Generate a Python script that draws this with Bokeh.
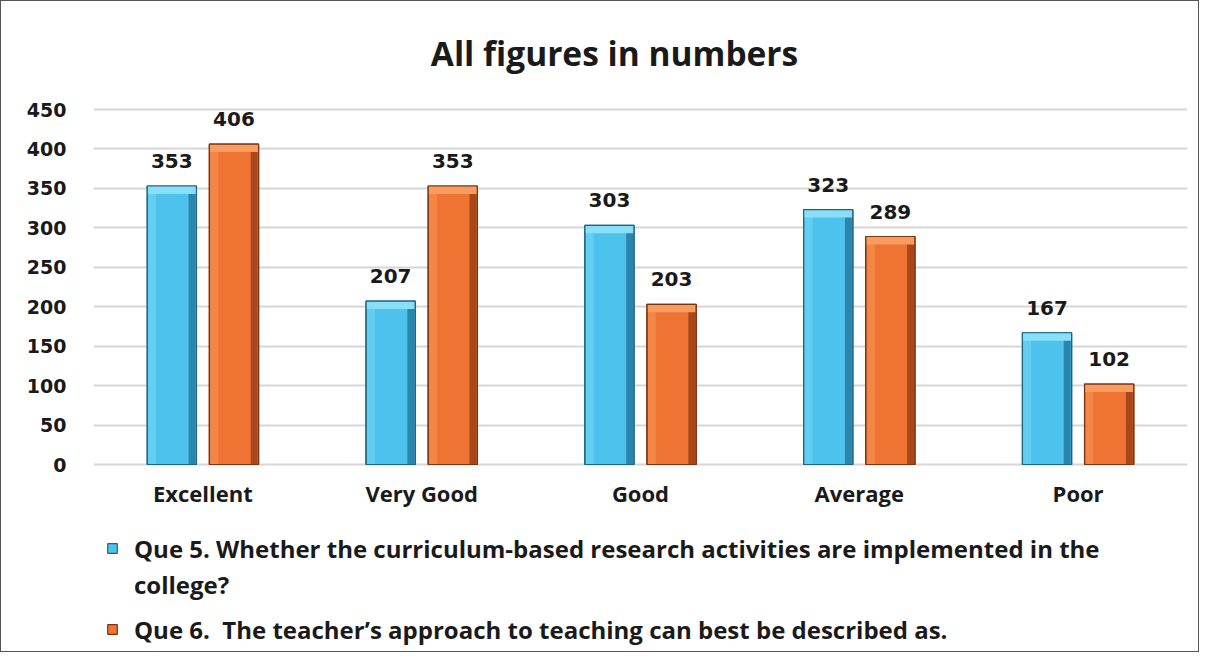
from bokeh.plotting import figure
from bokeh.models import (ColumnDataSource, FactorRange, FixedTicker, Legend, LegendItem,
                          LabelSet, Label, Range1d)
from bokeh.core.properties import value
from bokeh.transform import dodge
from bokeh.embed import file_html
from bokeh.resources import INLINE

categories = ["Excellent", "Very Good", "Good", "Average", "Poor"]
que5 = [353, 207, 303, 323, 167]
que6 = [406, 353, 203, 289, 102]
series_names = [
    "Que 5. Whether the curriculum-based research activities are implemented in the\ncollege?",
    "Que 6.  The teacher\u2019s approach to teaching can best be described as.",
]
chart_title = "All figures in numbers"
y_ticks = [0, 50, 100, 150, 200, 250, 300, 350, 400, 450]

# ---- layout constants (pixels) ----
W, H = 1199, 652
LEFT, RIGHT = 92, 13
ZERO_PX, TOP450_PX = 463, 108
k = (ZERO_PX - TOP450_PX) / 450.0       # pixels per unit
y_max = ZERO_PX / k                      # frame spans the full height
y_min = -(H - ZERO_PX) / k
cat_px = (W - LEFT - RIGHT) / len(categories)

p = figure(x_range=FactorRange(*categories), y_range=Range1d(y_min, y_max), width=W, height=H,
           output_backend="svg", toolbar_location=None,
           min_border_left=LEFT, min_border_right=RIGHT, min_border_top=0, min_border_bottom=0)
p.outline_line_color = None
p.background_fill_color = "white"
p.border_fill_color = "white"

# title
p.add_layout(Label(x=(613 - LEFT) / cat_px, y=(ZERO_PX - 51) / k, text=chart_title,
                   text_align="center", text_baseline="middle", text_font="Open Sans",
                   text_font_size="33.5px", text_font_style="bold", text_color="#1a1a1a"))

p.xgrid.grid_line_color = None
p.ygrid.grid_line_color = "#d6d6d6"
p.ygrid.grid_line_width = 2
p.yaxis.ticker = FixedTicker(ticks=y_ticks)
p.yaxis.axis_line_color = None
p.yaxis.major_tick_line_color = None
p.yaxis.minor_tick_line_color = None
p.yaxis.major_label_text_font = "DejaVu Sans"
p.yaxis.major_label_text_font_style = "bold"
p.yaxis.major_label_text_font_size = "19px"
p.yaxis.major_label_text_color = "#1a1a1a"
p.yaxis.major_label_standoff = 21
p.xaxis.visible = False

src = ColumnDataSource(dict(cat=categories, q5=que5, q6=que6, zero=[0] * len(categories),
                            q5_top=[v - 10 for v in que5], q6_top=[v - 10 for v in que6],
                            q5_lbl=[str(v) for v in que5], q6_lbl=[str(v) for v in que6]))

# category labels under the zero line
p.add_layout(LabelSet(x="cat", y="zero", text="cat", source=src, text_align="center",
                      text_baseline="middle", y_offset=-28, text_font=value("Open Sans"),
                      text_font_style="bold", text_font_size="22px", text_color="#1a1a1a"))

BW = 0.225
OFF = 0.142
styles = [
    dict(col="q5", top="q5_top", lbl="q5_lbl", off=-OFF, main="#4CC2EC", light="#8ADFF8",
         left="#64CEF2", right="#2B86AE", edge="#1D6585"),
    dict(col="q6", top="q6_top", lbl="q6_lbl", off=OFF, main="#EF7433", light="#F89C60",
         left="#F38646", right="#A8481A", edge="#7A3410"),
]
base_renderers = []
for s in styles:
    x = dodge("cat", s["off"], range=p.x_range)
    r = p.vbar(x=x, top=s["col"], bottom=0, width=BW, source=src, fill_color=s["main"],
               line_color=s["edge"], line_width=1.2)
    base_renderers.append(r)
    p.vbar(x=dodge("cat", s["off"] - BW * 0.40, range=p.x_range), top=s["col"], bottom=0,
           width=BW * 0.16, source=src, fill_color=s["left"], line_color=None)
    p.vbar(x=dodge("cat", s["off"] + BW * 0.41, range=p.x_range), top=s["col"], bottom=0,
           width=BW * 0.14, source=src, fill_color=s["right"], line_color=None)
    p.vbar(x=x, top=s["col"], bottom=s["top"], width=BW * 0.98, source=src,
           fill_color=s["light"], line_color=None)
    p.vbar(x=x, top=s["col"], bottom=0, width=BW, source=src, fill_color=None,
           line_color=s["edge"], line_width=1.2)
    p.add_layout(LabelSet(x=x, y=s["col"], text=s["lbl"], source=src, text_align="center",
                          text_baseline="bottom", y_offset=18, text_font=value("DejaVu Sans"),
                          text_font_style="bold", text_font_size="20px", text_color="#1a1a1a"))

legend_style = dict(orientation="vertical", padding=0, margin=0,
                    glyph_width=12, glyph_height=12, label_standoff=16,
                    label_text_font="Open Sans", label_text_font_style="bold",
                    label_text_font_size="24px", label_text_color="#1a1a1a",
                    label_text_line_height=1.42, label_height=34,
                    border_line_color=None, background_fill_alpha=0)

# first entry wraps: marker sits on its first line
q5_lines = series_names[0].split("\n")
legend_a = Legend(items=[LegendItem(label=q5_lines[0], renderers=[base_renderers[0]]),
                         LegendItem(label=q5_lines[1], renderers=[])],
                  location=(13, 52), spacing=2, **legend_style)
legend_b = Legend(items=[LegendItem(label=series_names[1], renderers=[base_renderers[1]])],
                  location=(13, 7), spacing=0, **legend_style)
p.add_layout(legend_a, "center")
p.add_layout(legend_b, "center")

p.styles = {"border": "1px solid #555"}

open("out.html", "w").write(file_html(p, INLINE))
